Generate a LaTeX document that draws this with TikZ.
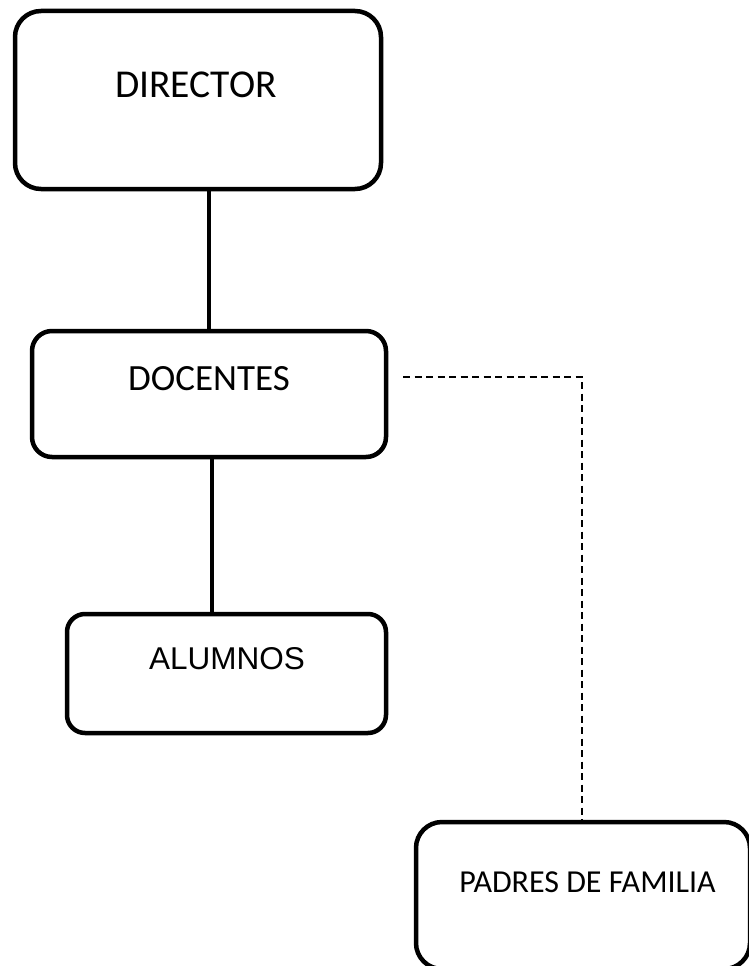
\documentclass[tikz,border=0pt]{standalone}
\usepackage{fontspec}
\setmainfont{Carlito}
\newfontfamily\arialf{Liberation Sans}
\begin{document}
\begin{tikzpicture}[x=1pt,y=-1pt,
  orgbox/.style={draw=black, line width=4.5pt, fill=white, rounded corners=#1, inner sep=0pt},
  orgbox/.default=22pt,
  conn/.style={draw=black, line width=4.5pt},
  dconn/.style={draw=black, line width=1.8pt, dash pattern=on 7pt off 4.5pt},
  lbl/.style={inner sep=0pt, anchor=center}]
\fill[white] (0,0) rectangle (749,966);
\begin{scope}
\clip (0,0) rectangle (749,966);
% boxes
\node[orgbox=26pt, minimum width=366pt, minimum height=178pt] (dir) at (198,100) {};
\node[orgbox=20pt, minimum width=354pt, minimum height=126pt] (doc) at (209,394) {};
\node[orgbox=18pt, minimum width=319pt, minimum height=119pt] (alu) at (226.5,673.5) {};
\node[orgbox=26pt, minimum width=334pt, minimum height=147pt] (pad) at (583,895.5) {};
% texts
\node[lbl] (dirtext) at (196,85) {\fontsize{39.5}{46}\selectfont DIRECTOR};
\node[lbl] (doctext) at (209,379) {\fontsize{37}{44}\selectfont DOCENTES};
\node[lbl] (alutext) at (227,659) {\arialf\fontsize{31.5}{38}\selectfont ALUMNOS};
\node[lbl] (padtext) at (587.5,882) {\fontsize{32}{38}\selectfont PADRES DE FAMILIA};
% connectors
\draw[conn] (doc.north |- dir.south) -- (doc.north);
\draw[conn] ([xshift=3pt]doc.south) -- ([xshift=3pt]doc.south |- alu.north);
\coordinate (dstart) at (403,377);
\draw[dconn] (dstart) -- ([xshift=-1pt]pad.north |- dstart) -- ([xshift=-1pt]pad.north);
\end{scope}
\useasboundingbox (0,0) rectangle (749,966);
\end{tikzpicture}
\end{document}
